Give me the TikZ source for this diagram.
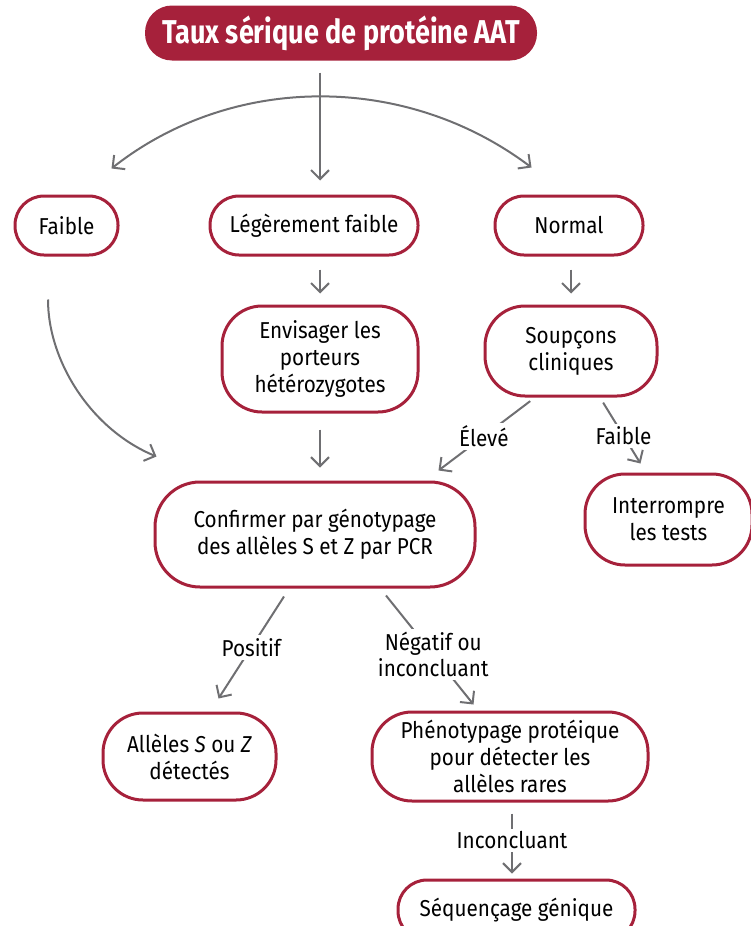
\documentclass[tikz,border=0pt]{standalone}
\usepackage{fontspec}
\setmainfont{Fira Sans}[FakeStretch=0.9]
\newfontfamily\titlefont{Fira Sans}[FakeStretch=0.82]
\usetikzlibrary{arrows.meta,calc}
\definecolor{aatred}{HTML}{A6213B}
\definecolor{aatgray}{HTML}{6F6F72}
\begin{document}
\begin{tikzpicture}[x=1pt,y=-1pt,
  box/.style={draw=aatred, line width=3pt, rounded corners=#1, align=center,
    inner sep=0pt, font=\fontsize{23}{27}\selectfont},
  box/.default=29pt,
  titlebox/.style={fill=aatred, rounded corners=27pt, inner sep=0pt, text=white,
    font=\titlefont\bfseries\fontsize{33}{38}\selectfont},
  arr/.style={draw=aatgray, line width=2pt, -{Straight Barb[length=9pt,width=18pt]}},
  arrb/.style={draw=aatgray, line width=2pt, {Straight Barb[length=9pt,width=18pt]}-{Straight Barb[length=9pt,width=18pt]}},
  lbl/.style={fill=white, inner sep=3pt, align=center, font=\fontsize{23}{26}\selectfont}
]
\useasboundingbox (0,0) rectangle (750,926);

\node[titlebox, minimum width=392pt, minimum height=55pt] (title) at (341,33) {Taux sérique de protéine AAT};

\node[box, minimum width=103pt, minimum height=59pt] (faible) at (66.5,225.5) {Faible};
\node[box, minimum width=208pt, minimum height=59pt] (leger) at (314,225.5) {Légèrement faible};
\node[box, minimum width=148pt, minimum height=59pt] (normal) at (569,225.5) {Normal};

\node[box=40pt, minimum width=196pt, minimum height=106pt] (envis) at (320,359) {Envisager les\\porteurs\\hétérozygotes};
\node[box=40pt, minimum width=172pt, minimum height=90pt] (soup) at (571,351) {Soupçons\\cliniques};

\node[box=45pt, minimum width=320pt, minimum height=105pt] (conf) at (315,534.5) {Confirmer par génotypage\\des allèles S et Z par PCR};
\node[box=40pt, minimum width=167pt, minimum height=91pt] (interr) at (668.5,519.5) {Interrompre\\les tests};

\node[box=40pt, minimum width=173pt, minimum height=87pt] (allel) at (189.5,756.5) {Allèles \textit{S} ou \textit{Z}\\détectés};
\node[box=40pt, minimum width=276pt, minimum height=89pt] (pheno) at (510,756.5) {Phénotypage protéique\\pour détecter les\\allèles rares};
\node[box, minimum width=237pt, minimum height=60pt] (seq) at (516.5,910) {Séquençage génique};

% top connectors
\coordinate (tv) at ($(leger.north)+(6,0)$);
\draw[arr, shorten <=12pt, shorten >=14pt] (title.south -| tv) -- (tv);
\coordinate (arcL) at ($(faible.north east)+(-8,-26)$);
\coordinate (arcR) at ($(normal.north west)+(38,-27)$);
\draw[arrb] (arcL) .. controls (233,73) and (406,73) .. (arcR);

% second row
\draw[arr, shorten <=13pt, shorten >=11pt] ($(leger.south)+(6,0)$) -- (envis.north);
\draw[arr, shorten <=13pt, shorten >=11pt] ($(normal.south)+(2,0)$) -- (soup.north);

\coordinate (fs) at ($(faible.south)+(-18.5,43)$);
\coordinate (fe) at ($(conf.north west)+(3,-24)$);
\draw[arr] (fs) .. controls (48,362) and (92,430) .. (fe);
\draw[arr, shorten <=16pt, shorten >=13pt] (envis.south) -- ($(conf.north)+(5,0)$);

% from soupcons
\draw[arr, shorten <=6pt] ($(soup.south)+(-36,0)$) -- node[lbl, pos=0.53] {Élevé} ($(conf.north east)+(-38,-10)$);
\draw[arr, shorten <=6pt] ($(soup.south)+(29,0)$) -- node[lbl, pos=0.58] {Faible} ($(interr.north)+(-28,-9)$);

% from confirmer
\draw[arr] ($(conf.south)+(-31,8)$) -- node[lbl, pos=0.5] {Positif} ($(allel.north)+(29,-13)$);
\draw[arr] ($(conf.south)+(71,7)$) -- node[lbl, pos=0.54] {Négatif ou\\inconcluant} ($(pheno.north west)+(103,-6)$);

% bottom
\draw[arr, shorten <=11pt, shorten >=5pt] ($(pheno.south)+(2,0)$) -- node[lbl, pos=0.5] {Inconcluant} ($(seq.north)+(-4.5,0)$);
\end{tikzpicture}
\end{document}
